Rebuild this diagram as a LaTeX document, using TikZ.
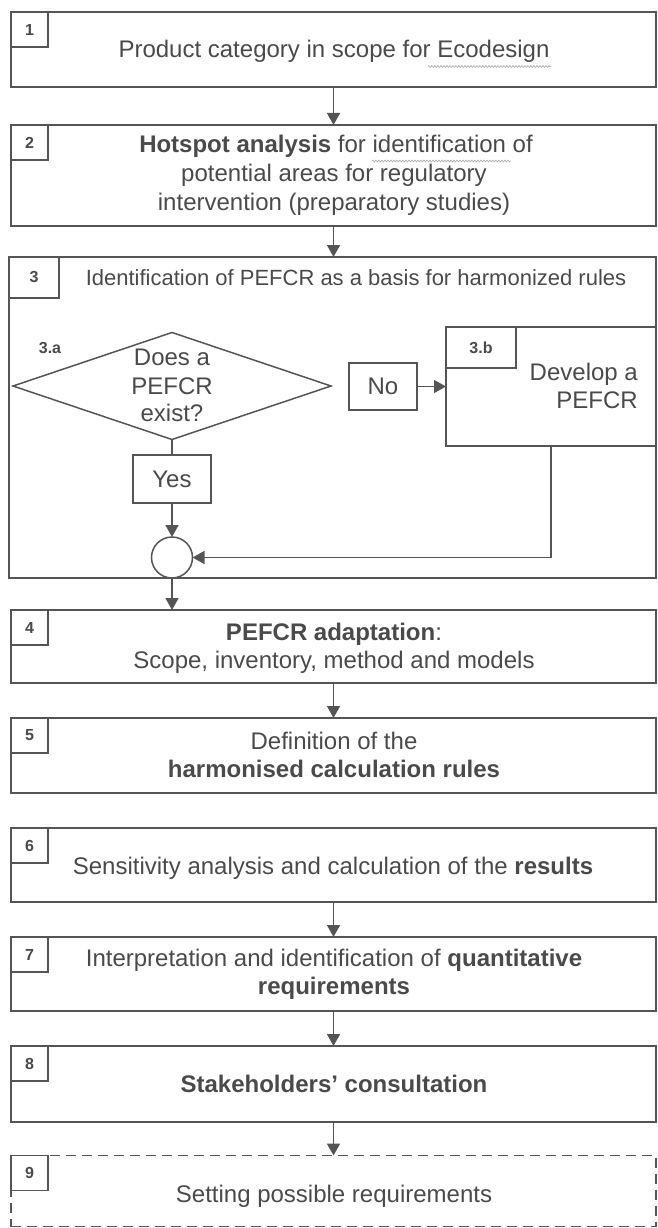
\documentclass[tikz,border=0pt]{standalone}
\usepackage{fontspec}
\setmainfont{Liberation Sans}
\usetikzlibrary{arrows.meta,shapes.geometric,decorations.pathmorphing}
\definecolor{linecol}{HTML}{555555}
\definecolor{txtcol}{HTML}{4A4A4A}
\definecolor{squigcol}{HTML}{A8A8A8}
\newcommand\fsbig{\fontsize{24}{28}\selectfont}
\newcommand\fstitle{\fontsize{22}{26}\selectfont}
\newcommand\fsnum{\fontsize{16}{19}\selectfont\bfseries}
\begin{document}
\begin{tikzpicture}[x=1pt,y=-1pt,
  box/.style={draw=linecol, line width=1.5pt, rectangle, inner sep=0pt, outer sep=0pt, text=txtcol, font=\fsbig},
  dbox/.style={box, dash pattern=on 10pt off 6pt},
  numbox/.style={draw=linecol, fill=white, line width=1.5pt, rectangle, inner sep=0pt, outer sep=0pt, anchor=north west, text=txtcol, font=\fsnum, minimum width=37pt, minimum height=35pt},
  txt/.style={anchor=base, inner sep=0pt, text=txtcol, font=\fsbig},
  lbl/.style={anchor=base, inner sep=0pt, text=txtcol, font=\fsnum},
  ln/.style={draw=linecol, line width=1.5pt},
  arr/.style={draw=linecol, line width=1.5pt, -{Triangle[width=13pt,length=12pt]}},
  squig/.style={draw=squigcol, line width=0.6pt, decorate, decoration={snake, amplitude=0.9pt, segment length=3pt}}
]
\useasboundingbox (0,0) rectangle (657,1228);

% Box 1
\node[box, minimum width=645pt, minimum height=75pt] (b1) at (333.5,49.5) {};
\node[numbox] (n1) at (b1.north west) {1};
\node[txt] (t1) at (334,58) {Product category in scope for Ecodesign};
\draw[squig] (428,66.5) -- (551,66.5);

% Box 2
\node[box, minimum width=645pt, minimum height=101pt] (b2) at (333.5,175.5) {};
\node[numbox] (n2) at (b2.north west) {2};
\node[txt] (t2a) at (336,152.5) {\textbf{Hotspot analysis} for identification of};
\node[txt] (t2b) at (334,181.5) {potential areas for regulatory};
\node[txt] (t2c) at (334,210.5) {intervention (preparatory studies)};
\draw[squig] (372,161) -- (511,161);

% Box 3 (container)
\node[box, minimum width=647pt, minimum height=321pt] (b3) at (332.5,417.5) {};
\node[numbox, minimum width=50pt, minimum height=41pt] (n3) at (b3.north west) {3};
\node[txt, font=\fstitle] (t3) at (356,285) {Identification of PEFCR as a basis for harmonized rules};

% 3.a decision
\node[diamond, draw=linecol, line width=1.5pt, minimum width=318pt, minimum height=107pt, inner sep=0pt, outer sep=0pt] (d) at (172,386) {};
\node[lbl] (l3a) at (50,353) {3.a};
\node[txt] (dt1) at (172,365.7) {Does a};
\node[txt] (dt2) at (172,394) {PEFCR};
\node[txt] (dt3) at (172,421.7) {exist?};

\node[box, minimum width=68pt, minimum height=47pt] (no) at (383,386.5) {No};
\node[box, minimum width=78pt, minimum height=48pt] (yes) at (172,479) {Yes};

% 3.b
\node[box, minimum width=210pt, minimum height=119pt] (b3b) at (551,386.5) {};
\node[numbox, minimum width=70pt, minimum height=41pt] (n3b) at (b3b.north west) {3.b};
\node[txt, anchor=base east] (dv1) at (638,380) {Develop a};
\node[txt, anchor=base east] (dv2) at (638,408) {PEFCR};

% merge circle
\node[circle, draw=linecol, line width=1.5pt, minimum size=41pt, inner sep=0pt, outer sep=0pt] (c) at (172,557.5) {};

% Box 4
\node[box, minimum width=645pt, minimum height=73pt] (b4) at (333.5,646.5) {};
\node[numbox] (n4) at (b4.north west) {4};
\node[txt] (t4a) at (334,640) {\textbf{PEFCR adaptation}:};
\node[txt] (t4b) at (334,668) {Scope, inventory, method and models};

% Box 5
\node[box, minimum width=645pt, minimum height=75pt] (b5) at (333.5,755.5) {};
\node[numbox] (n5) at (b5.north west) {5};
\node[txt] (t5a) at (334,749) {Definition of the};
\node[txt] (t5b) at (334,777) {\textbf{harmonised calculation rules}};

% Box 6
\node[box, minimum width=645pt, minimum height=74pt] (b6) at (333.5,865) {};
\node[numbox] (n6) at (b6.north west) {6};
\node[txt] (t6) at (333,874) {Sensitivity analysis and calculation of the \textbf{results}};

% Box 7
\node[box, minimum width=645pt, minimum height=74pt] (b7) at (333.5,974) {};
\node[numbox] (n7) at (b7.north west) {7};
\node[txt] (t7a) at (334,966) {Interpretation and identification of \textbf{quantitative}};
\node[txt] (t7b) at (334,994) {\textbf{requirements}};

% Box 8
\node[box, minimum width=645pt, minimum height=76pt] (b8) at (333.5,1084) {};
\node[numbox] (n8) at (b8.north west) {8};
\node[txt] (t8) at (334,1092) {\textbf{Stakeholders’ consultation}};

% Box 9 (dashed)
\node[dbox, minimum width=645pt, minimum height=71pt] (b9) at (333.5,1191) {};
\node[numbox] (n9) at (b9.north west) {9};
\node[txt] (t9) at (334,1202) {Setting possible requirements};

% connectors
\draw[arr] (b1.south) -- (b2.north);
\draw[arr] (b2.south) -- (b2.south |- b3.north);
\draw[ln] (d.south) -- (yes.north);
\draw[arr] (yes.south) -- (c.north);
\draw[arr] (no.east) -- (no.east -| b3b.west);
\draw[arr] (b3b.south) |- (c.east);
\draw[arr] (c.south) -- (c.south |- b4.north);
\draw[arr] (b4.south) -- (b5.north);
\draw[arr] (b6.south) -- (b7.north);
\draw[arr] (b7.south) -- (b8.north);
\draw[arr] (b8.south) -- (b9.north);
\end{tikzpicture}
\end{document}
